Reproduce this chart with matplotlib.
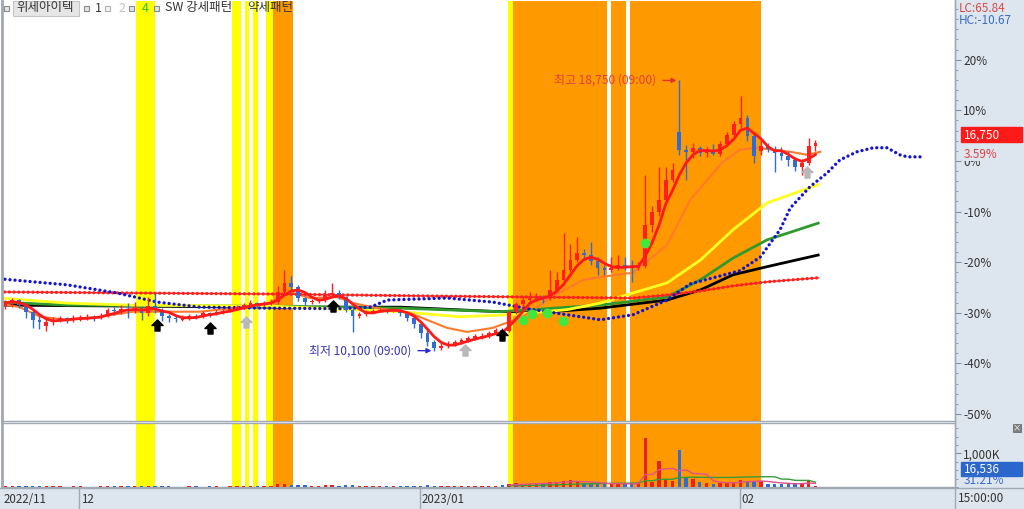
import numpy as np
import pandas as pd
import matplotlib
matplotlib.use('Agg')
import matplotlib.pyplot as plt
from matplotlib.path import Path
from matplotlib.patches import Rectangle

plt.rcParams['font.family'] = ['Noto Sans CJK KR', 'DejaVu Sans']

# candles, in % against the base price (16,750 = +3.59%)
opens = [-28.6, -28.1, -27.5, -28.5, -29.8, -31.4, -32.6, -31.9, -31.4, -31.0,
         -31.4, -31.2, -31.0, -30.8, -31.0, -30.6, -29.4, -29.6, -29.2, -29.6,
         -29.0, -30.0, -28.7, -29.4, -30.6, -31.0, -31.4, -31.2, -30.6, -30.8,
         -30.0, -30.2, -29.8, -29.6, -29.2, -28.9, -28.5, -28.1, -28.3, -28.1,
         -27.9, -25.9, -24.1, -24.9, -27.1, -27.9, -27.7, -27.5, -26.3, -26.1,
         -26.9, -29.4, -30.6, -30.2, -29.8, -29.6, -29.4, -29.6, -29.4, -30.0,
         -31.0, -32.2, -34.0, -35.8, -37.0, -36.6, -36.2, -35.8, -35.4, -35.0,
         -34.9, -34.6, -34.0, -33.4, -33.6, -29.8, -28.3, -27.5, -27.1, -26.9,
         -27.1, -25.5, -23.5, -21.5, -19.6, -18.2, -18.6, -19.8, -21.1, -21.5,
         -21.1, -20.6, -20.8, -21.1, -20.8, -12.6, -10.1, -7.7, -3.8, 5.7,
         2.2, 1.8, 2.6, 1.6, 2.2, 1.4, 3.4, 5.2, 7.2, 8.5,
         5.0, 2.0, 3.0, 2.4, 1.6, 1.0, 0.2, -1.2, -0.4, 3.0]
highs = [-27.4, -27.0, -27.2, -28.0, -29.4, -30.6, -31.2, -30.9, -30.6, -30.8,
         -30.5, -30.4, -30.3, -30.5, -30.0, -29.0, -28.8, -28.5, -28.0, -27.8,
         -28.6, -26.8, -26.1, -29.0, -30.2, -30.6, -30.5, -30.2, -30.3, -29.7,
         -29.8, -29.5, -29.2, -28.8, -28.4, -28.0, -27.4, -27.8, -27.6, -27.2,
         -24.8, -21.5, -22.8, -24.5, -26.8, -27.2, -27.0, -25.5, -24.1, -25.6,
         -26.6, -29.0, -29.8, -29.4, -29.2, -29.0, -29.2, -29.0, -29.2, -29.8,
         -30.6, -31.8, -33.5, -35.4, -36.0, -35.6, -35.4, -35.0, -34.6, -34.2,
         -34.0, -33.6, -33.0, -33.0, -29.5, -27.9, -26.6, -25.9, -26.2, -26.5,
         -21.5, -22.0, -14.2, -16.5, -15.0, -17.5, -16.0, -19.0, -20.5, -19.0,
         -18.5, -19.0, -19.5, -20.0, -2.8, -9.0, -1.2, -1.2, -0.4, 15.9,
         3.2, 3.6, 3.0, 2.8, 3.4, 4.0, 5.8, 7.8, 12.8, 9.0,
         5.6, 4.2, 3.6, 3.0, 2.8, 2.0, 0.8, 0.4, 4.6, 4.2]
lows = [-29.3, -28.8, -29.0, -31.0, -33.0, -33.2, -33.6, -32.4, -31.8, -32.0,
        -31.8, -31.6, -31.4, -31.6, -31.3, -30.9, -30.4, -30.2, -31.0, -30.0,
        -31.5, -30.6, -30.0, -31.6, -31.8, -31.8, -31.6, -31.5, -31.3, -31.0,
        -30.8, -30.5, -30.2, -29.9, -29.5, -29.3, -28.9, -28.8, -28.6, -28.5,
        -28.2, -26.5, -25.6, -27.6, -28.4, -28.3, -28.0, -27.8, -26.8, -27.3,
        -29.9, -33.8, -31.0, -30.6, -30.1, -29.9, -30.0, -29.9, -30.6, -31.6,
        -33.0, -35.0, -36.6, -37.5, -37.3, -37.0, -36.6, -36.2, -35.8, -35.3,
        -35.2, -35.0, -34.3, -34.0, -33.8, -30.3, -28.8, -28.0, -27.7, -28.0,
        -27.5, -26.0, -24.0, -22.0, -20.0, -19.6, -20.5, -22.5, -22.6, -22.0,
        -21.6, -21.6, -23.9, -21.6, -21.2, -14.0, -10.8, -8.5, -4.2, 1.2,
        -3.8, 0.5, 1.0, 0.8, 1.2, 1.0, 3.0, 4.8, 6.5, 4.0,
        -0.5, 1.2, 1.8, -2.2, 0.2, -1.0, -2.0, -2.8, -0.8, 2.0]
closes = [-28.1, -27.5, -28.5, -29.8, -31.4, -31.8, -31.9, -31.4, -31.0, -31.4,
          -31.2, -31.0, -30.8, -31.0, -30.6, -29.4, -29.6, -29.2, -29.6, -29.0,
          -30.0, -28.7, -29.4, -30.6, -31.0, -31.2, -31.2, -30.6, -30.8, -30.0,
          -30.2, -29.8, -29.6, -29.2, -28.9, -28.5, -28.1, -28.3, -28.1, -27.9,
          -25.9, -24.1, -24.9, -27.1, -27.9, -27.7, -27.5, -26.3, -26.1, -26.9,
          -29.4, -30.6, -30.2, -29.8, -29.6, -29.4, -29.6, -29.4, -30.0, -31.0,
          -32.2, -34.0, -35.8, -37.0, -36.6, -36.2, -35.8, -35.4, -35.0, -34.6,
          -34.6, -34.0, -33.4, -33.6, -29.8, -28.3, -27.5, -27.1, -26.9, -27.1,
          -25.5, -23.5, -21.5, -19.6, -18.2, -18.6, -19.8, -21.1, -21.5, -21.1,
          -20.6, -20.8, -21.1, -20.8, -12.6, -10.1, -7.7, -3.8, -1.8, 2.2,
          1.8, 2.6, 1.6, 2.2, 1.4, 3.4, 5.2, 7.2, 8.5, 5.0,
          1.0, 3.0, 2.4, 1.6, 1.0, 0.2, -1.2, -0.4, 3.0, 3.6]
volumes = [22, 18, 20, 25, 30, 20, 18, 15, 16, 14, 15, 18, 12, 14, 16, 20, 18, 15, 22, 25,
           28, 30, 26, 18, 15, 14, 12, 15, 16, 14, 18, 15, 14, 16, 20, 18, 22, 25, 24, 30,
           85, 95, 70, 60, 45, 40, 35, 55, 60, 40, 50, 45, 30, 25, 22, 20, 25, 22, 25, 30,
           35, 40, 45, 38, 30, 28, 25, 26, 24, 28, 30, 35, 40,
           70, 95, 110, 80, 100, 105, 130, 160, 140, 180, 200, 150, 120, 110, 100, 95, 75, 130, 85, 90, 105,
           1450, 150, 790, 200, 180, 1090, 300, 250, 150, 120, 100, 110, 130, 160, 220, 180,
           150, 190, 90, 100, 80, 90, 110, 120, 200, 16.5]

# indicator lines (x = candle index, y = %)
red_slow_x = [-0.8, 18.3, 38.9, 62.4, 92.2, 97.2, 102.1, 106.9, 111.9, 119.4]
red_slow_y = [-25.9, -26.1, -26.3, -26.7, -27.1, -26.5, -25.7, -24.7, -23.9, -23.1]
blue_lead_x = [-0.8, 9.1, 16.4, 22.3, 28.6, 38.4, 49.2, 53.6, 56.1, 64.9, 71.6, 77.5, 82.5, 87.4, 92.2,
               97.2, 100.6, 107.9, 110.9, 113.8, 115.3, 118.2, 120.7, 122.6, 125.1, 127.5, 129.5, 131.4,
               132.5, 134.4]
blue_lead_y = [-23.3, -24.5, -26.1, -27.9, -28.9, -29.1, -29.2, -28.9, -27.5, -27.1, -27.9, -29.4, -30.4,
               -31.4, -30.4, -27.5, -24.3, -21.7, -19.0, -13.6, -9.3, -5.1, -2.4, 0.2, 1.8, 2.6, 2.6, 1.2,
               0.8, 0.8]
yellow_x = [-0.8, 9.1, 18.3, 38.9, 58.0, 66.8, 74.1, 77.5, 82.5, 87.4, 92.2, 97.2, 102.1, 106.9, 111.9, 119.4]
yellow_y = [-27.1, -28.1, -28.5, -28.7, -29.8, -30.8, -30.4, -30.0, -29.4, -28.1, -26.1, -24.1, -19.6,
            -13.6, -8.3, -4.7]
green_x = [-0.8, 9.1, 38.9, 58.0, 72.7, 87.4, 97.2, 102.1, 106.9, 111.9, 119.4]
green_y = [-27.9, -28.5, -28.7, -29.1, -29.8, -28.5, -26.9, -23.5, -19.2, -15.6, -12.3]
black_x = [-0.8, 38.9, 58.0, 72.7, 80.0, 87.4, 97.2, 102.1, 106.9, 111.9, 119.4]
black_y = [-28.5, -28.9, -28.9, -29.8, -29.8, -29.1, -27.5, -25.5, -22.5, -20.9, -18.6]
orange_x = [-0.3, 2.1, 5.1, 9.1, 13.9, 18.7, 28.6, 33.4, 38.4, 41.8, 44.7, 48.7, 51.1, 54.6, 59.4, 61.9,
            64.9, 67.8, 71.6, 76.0, 80.0, 84.9, 89.8, 92.2, 97.2, 100.6, 105.4, 107.9, 110.4, 115.3,
            117.8, 119.7]
orange_y = [-28.3, -28.9, -30.8, -31.4, -30.8, -29.8, -29.8, -29.1, -28.3, -25.9, -27.1, -26.9, -28.1,
            -29.1, -30.0, -31.4, -33.0, -33.8, -33.0, -30.8, -27.1, -23.5, -22.5, -22.1, -16.6, -7.7,
            -0.2, 2.2, 2.6, 1.8, 1.2, 1.8]

# signal marks
black_arrow_x = [22.3, 30.1, 48.1, 72.9]
black_arrow_y = [-32.4, -33.0, -28.7, -34.4]
gray_arrow_x = [35.3, 67.5, 117.8]
gray_arrow_y = [-31.8, -37.4, -2.2]
green_dot_x = [76.0, 77.4, 79.6, 81.9, 94.0]
green_dot_y = [-31.4, -30.2, -30.0, -31.6, -16.2]

# pattern bands (candle index edges)
yellow_bands = [(19.2, 22.0), (33.3, 34.6), (35.2, 35.8), (36.4, 37.1), (38.3, 39.3), (73.8, 74.6)]
orange_bands = [(39.3, 42.3), (74.6, 88.4), (89.0, 91.2), (91.8, 111.0)]

month_x = [-0.5, 10.8, 60.9, 107.9]
month_labels = ['2022/11', '12', '2023/01', '02']

W, H = 1024, 509
def fx(px):
    return px / W
def fy(py):
    return 1 - py / H

panel = '#dde5ef'
fig = plt.figure(figsize=(W / 100, H / 100), dpi=100)
fig.add_artist(Rectangle((fx(955), 0), 1 - fx(955), 1, transform=fig.transFigure, color=panel, zorder=0))
fig.add_artist(Rectangle((0, 0), 1, 21 / H, transform=fig.transFigure, color=panel, zorder=0))

ax = fig.add_axes([fx(2), fy(421), 953 / W, 420 / H])
axv = fig.add_axes([fx(2), fy(487), 953 / W, 64 / H], sharex=ax)
axs = fig.add_axes([fx(2), 0, 953 / W, 21 / H], sharex=ax)

for a in (ax, axv):
    for x0, x1 in yellow_bands:
        a.axvspan(x0, x1, color='#ffff00', lw=0, zorder=0)
    for x0, x1 in orange_bands:
        a.axvspan(x0, x1, color='#ff9900', lw=0, zorder=0)

# long lines
ax.plot(black_x, black_y, color='black', lw=2, zorder=2)
ax.plot(green_x, green_y, color='#2e9a2e', lw=2, zorder=2)
ax.plot(yellow_x, yellow_y, color='#ffff20', lw=2, zorder=2)
ax.plot(orange_x, orange_y, color='#ff7a2a', lw=1.5, zorder=2)
ax.plot(red_slow_x, red_slow_y, color='#ff2020', lw=1, zorder=2)
ax.plot(red_slow_x, red_slow_y, color='#ff2020', lw=2.4, ls=(0, (0.01, 1.4)), dash_capstyle='round', zorder=2)
ax.plot(blue_lead_x, blue_lead_y, color='#1414d0', lw=2.4, ls=(0, (0.01, 1.5)), dash_capstyle='round', zorder=2)

# candles
x = np.arange(len(closes))
o = np.array(opens)
c = np.array(closes)
up = c >= o
cols = np.where(up, '#ff1f1f', '#2f6cd6')
ax.vlines(x, lows, highs, colors=cols, lw=1, zorder=3)
body = np.maximum(np.abs(c - o), 0.2)
ax.bar(x, body, bottom=np.minimum(o, c), width=0.55, color=cols, zorder=3)

ma5 = pd.Series(closes).rolling(4, min_periods=1).mean()
ax.plot(x, ma5, color='#ff1a1a', lw=2, zorder=4)

# signal marks
arrow = Path([(0, 1), (1, 0), (0.45, 0), (0.45, -1), (-0.45, -1), (-0.45, 0), (-1, 0), (0, 1)],
             [Path.MOVETO] + [Path.LINETO] * 6 + [Path.CLOSEPOLY])
ax.plot(black_arrow_x, black_arrow_y, ls='none', marker=arrow, ms=8, color='black', zorder=5)
ax.plot(gray_arrow_x, gray_arrow_y, ls='none', marker=arrow, ms=8, color='#b8b8b8', zorder=5)
ax.plot(green_dot_x, green_dot_y, ls='none', marker='o', ms=6, color='#3ee83e', zorder=5)

# high / low notes
hi = int(np.argmax(highs))
lo = int(np.argmin(lows))
ax.annotate('', xy=(hi, highs[hi]), xytext=(-19, 0), textcoords='offset pixels',
            arrowprops=dict(arrowstyle='-|>', color='#e03030', lw=1, mutation_scale=7), zorder=6)
ax.annotate('최고 18,750 (09:00)', xy=(hi, highs[hi]), xytext=(-23, 0), textcoords='offset pixels',
            ha='right', va='center', color='#e04040', fontsize=8.6, zorder=6)
ax.annotate('', xy=(lo, lows[lo]), xytext=(-19, 0), textcoords='offset pixels',
            arrowprops=dict(arrowstyle='-|>', color='#2a2ad0', lw=1, mutation_scale=7), zorder=6)
ax.annotate('최저 10,100 (09:00)', xy=(lo, lows[lo]), xytext=(-23, 0), textcoords='offset pixels',
            ha='right', va='center', color='#3535b5', fontsize=8.6, zorder=6)

ax.set_xlim(-0.5, 139.5)
ax.set_ylim(-51.4, 31.6)
ax.yaxis.tick_right()
ax.set_yticks(range(-50, 21, 10))
ax.set_yticklabels([f'{v}%' for v in range(-50, 21, 10)])
ax.set_yticks(np.arange(-50, 31, 2), minor=True)
ax.tick_params(axis='y', which='major', direction='out', length=4, color='#8090a8',
               labelsize=8.5, labelcolor='#333333', pad=2)
ax.tick_params(axis='y', which='minor', direction='out', length=2, color='#8090a8')
ax.tick_params(axis='x', which='both', bottom=False, labelbottom=False)

# volume
vcols = np.where(up, '#e82020', '#2f6cd6')
axv.bar(x, volumes, width=0.5, color=vcols, zorder=3)
vma5 = pd.Series(volumes).rolling(5, min_periods=1).mean()
vma20 = pd.Series(volumes).rolling(20, min_periods=1).mean()
shown = x >= 74
axv.plot(x[shown], vma20[shown], color='#3a9a3a', lw=1, zorder=3)
axv.plot(x[shown], vma5[shown], color='#e0508a', lw=1, zorder=4)
axv.set_ylim(0, 1910)
axv.yaxis.tick_right()
axv.set_yticks([1000])
axv.set_yticklabels(['1,000K'])
axv.set_yticks(np.arange(0, 1900, 250), minor=True)
axv.tick_params(axis='y', which='major', direction='out', length=4, color='#8090a8',
                labelsize=8.5, labelcolor='#333333', pad=2)
axv.tick_params(axis='y', which='minor', direction='out', length=2, color='#8090a8')
axv.tick_params(axis='x', which='both', bottom=False, labelbottom=False)

for a in (ax, axv):
    for s in a.spines.values():
        s.set_color('#a0a8b4')
        s.set_linewidth(1)
    a.spines['left'].set_linewidth(2)
ax.spines['top'].set_visible(False)

# date strip
axs.set_facecolor(panel)
axs.set_ylim(0, 1)
axs.set_yticks([])
axs.tick_params(axis='x', which='both', bottom=False, labelbottom=False)
for s in axs.spines.values():
    s.set_visible(False)
axs.vlines(month_x[1:], 0, 1, color='#a0a8b4', lw=1)
for mx, lab in zip(month_x, month_labels):
    axs.text(mx + 0.25, 0.45, lab, ha='left', va='center', fontsize=8.3, color='#333333')
fig.text(fx(958), fy(499), '15:00:00', ha='left', va='center', fontsize=8.5, color='#333333')
fig.add_artist(plt.Line2D([fx(955), fx(955)], [0, 1], color='#a0a8b4', lw=1))
fig.add_artist(plt.Line2D([0, 1], [fy(488), fy(488)], color='#a0a8b4', lw=1))

# right panel labels
fig.text(fx(959), fy(8), 'LC:65.84', ha='left', va='center', fontsize=8.5, color='#d84848')
fig.text(fx(959), fy(20), 'HC:-10.67', ha='left', va='center', fontsize=8.5, color='#3a6cc8')
fig.add_artist(Rectangle((fx(961), fy(142)), 61 / W, 15 / H, transform=fig.transFigure,
                         color='#ff1a1a', zorder=5))
fig.text(fx(964), fy(135), '16,750', ha='left', va='center', fontsize=8.5, color='white', zorder=6)
fig.text(fx(964), fy(154), '3.59%', ha='left', va='center', fontsize=8.5, color='#e04040', zorder=6,
         bbox=dict(facecolor=panel, edgecolor='none', pad=0.5))
fig.add_artist(Rectangle((fx(961), fy(476)), 61 / W, 14 / H, transform=fig.transFigure,
                         color='#2a66cc', zorder=5))
fig.text(fx(964), fy(469), '16,536', ha='left', va='center', fontsize=8.5, color='white', zorder=6)
fig.text(fx(964), fy(481), '31.21%', ha='left', va='center', fontsize=8.5, color='#3a6cc8', zorder=6)
fig.add_artist(Rectangle((fx(1013), fy(432)), 8 / W, 8 / H, transform=fig.transFigure,
                         facecolor='#808080', edgecolor='#606060', lw=0.5, zorder=5))
fig.text(fx(1017), fy(428), '×', ha='center', va='center', fontsize=6, color='white', zorder=6)

# title row
def small_box(px, light=False):
    fig.add_artist(Rectangle((fx(px), fy(11)), 5 / W, 5 / H, transform=fig.transFigure,
                             facecolor='#f4f4f4' if light else '#e4e4e4',
                             edgecolor='#b0b0b0' if light else '#8a8a8a', lw=0.8, zorder=5))

fig.add_artist(Rectangle((fx(13), fy(16)), 66 / W, 15 / H, transform=fig.transFigure,
                         facecolor='#e6e6e6', edgecolor='#c4c4c4', lw=0.8, zorder=5))
small_box(4)
small_box(84)
small_box(105, light=True)
small_box(129)
small_box(154)
fig.text(fx(16), fy(8), '위세아이텍', ha='left', va='center', fontsize=9, color='#333333', zorder=6)
fig.text(fx(95), fy(8), '1', ha='left', va='center', fontsize=9, color='#333333', zorder=6)
fig.text(fx(118), fy(8), '2', ha='left', va='center', fontsize=9, color='#c4c4c4', zorder=6)
fig.text(fx(142), fy(8), '4', ha='left', va='center', fontsize=9, color='#30c030', zorder=6)
fig.text(fx(165), fy(8), 'SW 강세패턴', ha='left', va='center', fontsize=9, color='#333333', zorder=6)
fig.text(fx(247), fy(8), '약세패턴', ha='left', va='center', fontsize=9, color='#333333', zorder=6)

fig.savefig('out.png', dpi=100)
